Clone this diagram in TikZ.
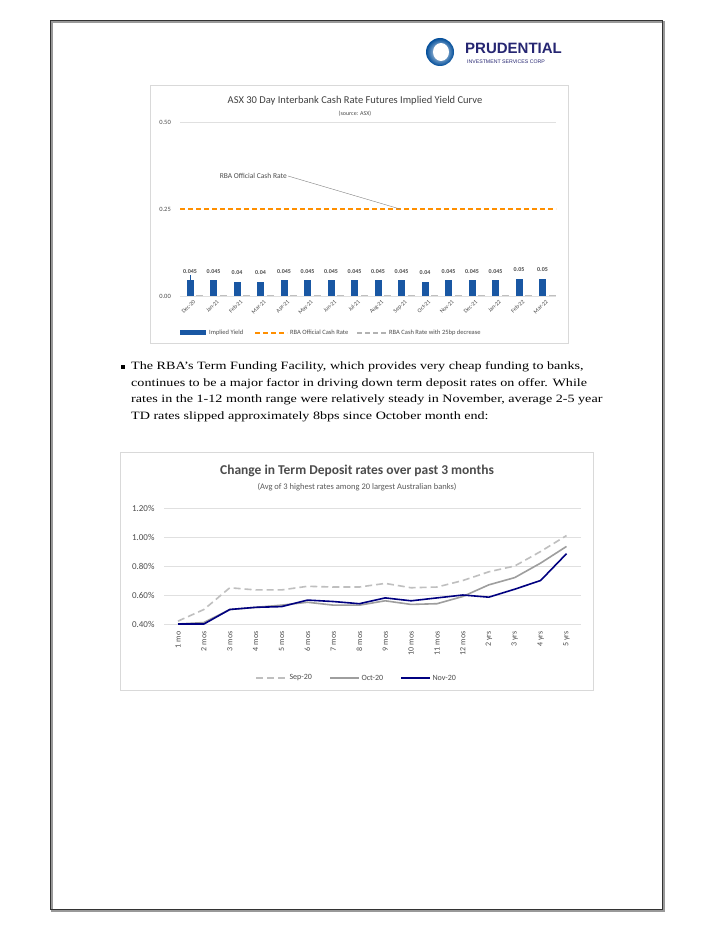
\documentclass[tikz,border=0pt]{standalone}
\usepackage{fontspec}
\setmainfont{Liberation Serif}[FakeStretch=1.26]
\newfontfamily\calfont{Carlito}
\begin{document}
\begin{tikzpicture}[x=1pt,y=-1pt,
  lbl/.style={font=\calfont\fontsize{6.5}{7}\selectfont,text=black!70,inner sep=1pt},
  ttl/.style={font=\calfont\fontsize{10.5}{12}\selectfont,text=black!75},
  grid/.style={draw=black!12,line width=0.5pt}]
\useasboundingbox (0,0) rectangle (713,928);
\fill[white] (0,0) rectangle (713,928);
% page frame
\draw[black!40,line width=1.5pt] (52,22) rectangle (664,911);
\draw[black!80,line width=0.6pt] (50,20) rectangle (662,909);
% logo
\shade[inner color=white,outer color=blue!50!cyan!60!black] (440,52) circle (14);
\fill[white] (441,52) ellipse (8 and 9);
\node[anchor=west,inner sep=0,font=\fontspec{Liberation Sans}\fontsize{15}{15}\selectfont\bfseries,text=blue!35!black!85] (logo) at (465,48) {PRUDENTIAL};
\node[anchor=west,inner sep=0,font=\fontspec{Liberation Sans}\fontsize{5.2}{6}\selectfont,text=blue!35!black!85] (logos) at (467,62) {INVESTMENT SERVICES CORP};
% chart 1
\draw[black!15] (150,85) rectangle (568,343);
\node[ttl] (t1) at (355,101) {ASX 30 Day Interbank Cash Rate Futures Implied Yield Curve};
\node[lbl,font=\calfont\fontsize{6}{6}\selectfont] (s1) at (355,114) {(source: ASX)};
\draw[grid] (180,122) -- (556,122);
\draw[grid] (180,296) -- (556,296);
\node[lbl,anchor=east] (y50) at (172,122) {0.50};
\node[lbl,anchor=east] (y25) at (172,209) {0.25};
\node[lbl,anchor=east] (y00) at (172,296) {0.00};
\draw[orange!90!red!80!yellow,line width=2pt,dash pattern=on 5pt off 3pt] (180,209) -- (556,209);
\node[lbl,font=\calfont\fontsize{7.5}{8}\selectfont,anchor=east] (ann) at (288,176) {RBA Official Cash Rate};
\coordinate (annend) at (400,209);
\draw[black!50,line width=0.4pt] (ann.east) -- (annend);
\foreach \v/\m/\t [count=\i from 0] in {0.045/Dec-20/0.045,0.045/Jan-21/0.045,0.04/Feb-21/0.04,0.04/Mar-21/0.04,0.045/Apr-21/0.045,0.045/May-21/0.045,0.045/Jun-21/0.045,0.045/Jul-21/0.045,0.045/Aug-21/0.045,0.045/Sep-21/0.045,0.04/Oct-21/0.04,0.045/Nov-21/0.045,0.045/Dec-21/0.045,0.045/Jan-22/0.045,0.05/Feb-22/0.05,0.05/Mar-22/0.05}{
  \pgfmathsetmacro\xx{190+23.5*\i}
  \pgfmathsetmacro\yy{296-\v*348}
  \fill[blue!55!cyan!60!black!90] (\xx-3.5,\yy) rectangle (\xx+3.5,296);
  \fill[black!25] (\xx+6,294.5) rectangle (\xx+13,296);
  \node[lbl,font=\calfont\bfseries\fontsize{6}{6}\selectfont,anchor=south] at (\xx,\yy-6) {\t};
  \node[lbl,anchor=north east,rotate=45,inner sep=0,font=\calfont\fontsize{5.8}{6}\selectfont] at (\xx+3,299) {\m};
}
\draw[blue!55!cyan!60!black!90,line width=0.4pt] (190,275) -- (190,281);
% legend 1
\fill[blue!55!cyan!60!black!90] (180,330) rectangle (206,335);
\node[lbl,anchor=west] (l1) at (208,332.5) {Implied Yield};
\draw[orange!90!red!80!yellow,line width=2pt,dash pattern=on 5pt off 3pt] (255,332.5) -- (287,332.5);
\node[lbl,anchor=west] (l2) at (289,332.5) {RBA Official Cash Rate};
\draw[black!30,line width=2pt,dash pattern=on 5pt off 3pt] (357,332.5) -- (386,332.5);
\node[lbl,anchor=west] (l3) at (388,332.5) {RBA Cash Rate with 25bp decrease};
% text
\tikzset{para/.style={anchor=west,inner sep=0,font=\fontsize{11.2}{12}\selectfont}}
\fill (121,364.5) rectangle (125,368.5);
\node[para] (p1) at (131,367) {The RBA's Term Funding Facility, which provides very cheap funding to banks,};
\node[para] (p2) at (131,383.5) {continues to be a major factor in driving down term deposit rates on offer. While};
\node[para] (p3) at (131,400) {rates in the 1-12 month range were relatively steady in November, average 2-5 year};
\node[para] (p4) at (131,416.5) {TD rates slipped approximately 8bps since October month end:};
% chart 2
\draw[black!15] (120,452) rectangle (593,690);
\node[font=\calfont\bfseries\fontsize{13.5}{14}\selectfont,text=black!70] (t2) at (357,471) {Change in Term Deposit rates over past 3 months};
\node[font=\calfont\fontsize{8.5}{9}\selectfont,text=black!65] (s2) at (357,487) {(Avg of 3 highest rates among 20 largest Australian banks)};
\foreach \v/\l in {0.4/0.40\%,0.6/0.60\%,0.8/0.80\%,1.0/1.00\%,1.2/1.20\%}{
  \pgfmathsetmacro\yy{624-(\v-0.4)*145}
  \draw[grid] (164,\yy) -- (581,\yy);
  \node[font=\calfont\fontsize{9}{9}\selectfont,text=black!70,anchor=east] at (158,\yy) {\l};
}
\foreach \m [count=\i from 0] in {1 mo,2 mos,3 mos,4 mos,5 mos,6 mos,7 mos,8 mos,9 mos,10 mos,11 mos,12 mos,2 yrs,3 yrs,4 yrs,5 yrs}{
  \node[font=\calfont\fontsize{8}{8}\selectfont,text=black!70,anchor=east,rotate=90] at (178+25.9*\i,628) {\m};
}
\draw[black!25,line width=1.6pt,dash pattern=on 7pt off 4pt] (178,{624-(0.42-0.4)*145})
 \foreach \v [count=\i from 1] in {0.50,0.65,0.635,0.635,0.66,0.655,0.655,0.68,0.65,0.655,0.70,0.76,0.80,0.90,1.01}{
   -- ({178+25.9*\i},{624-(\v-0.4)*145})};
\draw[black!38,line width=1.6pt,line join=round] (178,624)
 \foreach \v [count=\i from 1] in {0.41,0.50,0.515,0.53,0.55,0.53,0.53,0.56,0.535,0.54,0.59,0.67,0.72,0.82,0.935}{
   -- ({178+25.9*\i},{624-(\v-0.4)*145})};
\draw[blue!50!black,line width=1.6pt,line join=round] (178,624)
 \foreach \v [count=\i from 1] in {0.40,0.50,0.515,0.52,0.565,0.555,0.54,0.58,0.56,0.58,0.60,0.585,0.64,0.70,0.885}{
   -- ({178+25.9*\i},{624-(\v-0.4)*145})};
% legend 2
\draw[black!25,line width=1.6pt,dash pattern=on 7pt off 4pt] (256,678) -- (285,678);
\node[font=\calfont\fontsize{8}{8}\selectfont,text=black!70,anchor=west] (L1) at (286,678) {Sep-20};
\draw[black!38,line width=1.6pt] (330,678) -- (359,678);
\node[font=\calfont\fontsize{8}{8}\selectfont,text=black!70,anchor=west] (L2) at (358,678) {Oct-20};
\draw[blue!50!black,line width=1.6pt] (401,678) -- (430,678);
\node[font=\calfont\fontsize{8}{8}\selectfont,text=black!70,anchor=west] (L3) at (429,678) {Nov-20};
\end{tikzpicture}
\end{document}
